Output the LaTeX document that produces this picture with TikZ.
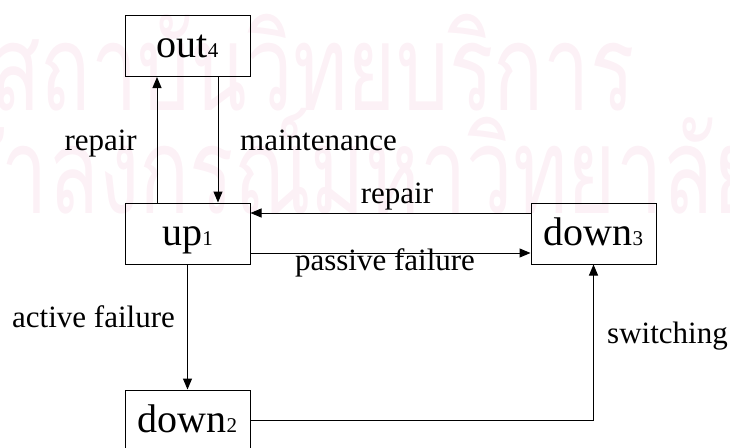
\documentclass[tikz,border=0pt]{standalone}
\usepackage{fontspec}
\setmainfont{Liberation Serif}
\newfontfamily\thaifont[Script=Thai]{Loma}
\usetikzlibrary{arrows.meta}

\definecolor{stamppink}{RGB}{252,241,246}
% state name with its index set small on the same baseline
\newcommand{\statename}[2]{\fontsize{40}{40}\selectfont #1{\fontsize{21}{21}\selectfont #2}}

\begin{document}
\begin{tikzpicture}[x=1pt,y=-1pt,
    state/.style={draw,line width=1pt,minimum width=125pt,minimum height=61pt,
      inner sep=0pt,text height=23pt,text depth=0pt},
    lbl/.style={font=\fontsize{31}{31}\selectfont,inner sep=0pt},
    stamp/.style={text=stamppink,font=\thaifont\fontsize{120}{120}\selectfont,
      inner sep=0pt,anchor=base west},
    >={Triangle[length=11pt,width=9pt]}]
  \clip (0,0) rectangle (730,447);

  % faint stamp behind everything, squeezed sideways
  \begin{scope}[xscale=0.69,transform shape]
    \node[stamp] (stampa) at (-14,110) {สถาบันวิทยบริการ};
    \node[stamp] (stampb) at (-150,213) {จุฬาลงกรณ์มหาวิทยาลัย};
  \end{scope}

  \node[state] (out) at (187.5,46) {\statename{out}{4}};
  \node[state] (up) at (187.5,233.5) {\statename{up}{1}};
  \node[state] (downc) at (593.5,233.5) {\statename{down}{3}};
  \node[state] (downb) at (187.5,420.5) {\statename{down}{2}};

  \begin{scope}[line width=1pt]
    \draw[->] ([xshift=-30.5pt]up.north) -- ([xshift=-30.5pt]out.south);
    \draw[->] ([xshift=30.5pt]out.south) -- ([xshift=30.5pt]up.north);
    \draw[->] ([yshift=20.5pt]downc.west) -- ([yshift=20.5pt]up.east);
    \draw[->] ([yshift=-19.5pt]up.east) -- ([yshift=-19.5pt]downc.west);
    \draw[->] (up.south) -- (downb.north);
    \draw[->] (downb.east) -| (downc.south);
  \end{scope}

  \node[lbl,anchor=base east] (lrepair) at (137,150) {repair};
  \node[lbl,anchor=base west] (lmaint) at (240,150) {maintenance};
  \node[lbl,anchor=base] (lback) at (397,203) {repair};
  \node[lbl,anchor=base] (lpassive) at (385,270) {passive failure};
  \node[lbl,anchor=base west] (lactive) at (12,327) {active failure};
  \node[lbl,anchor=base west] (lswitch) at (607,343) {switching};
\end{tikzpicture}
\end{document}
